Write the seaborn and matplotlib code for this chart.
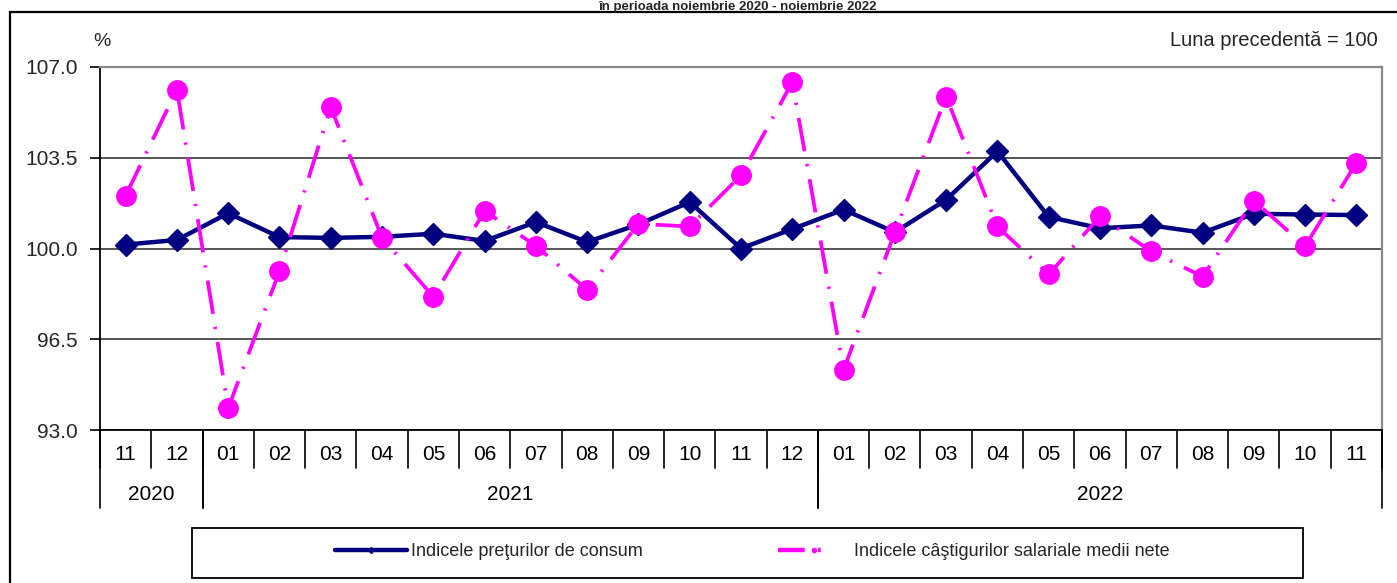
import numpy as np
import pandas as pd
import matplotlib
matplotlib.use("Agg")
import matplotlib.pyplot as plt
import matplotlib.transforms as mtransforms
from matplotlib.lines import Line2D
from matplotlib.patches import Rectangle
import seaborn as sns

# lunile afisate pe axa x
months = ["11", "12", "01", "02", "03", "04", "05", "06", "07", "08", "09", "10",
          "11", "12", "01", "02", "03", "04", "05", "06", "07", "08", "09", "10", "11"]
years = ["2020", "2021", "2022"]
year_counts = [2, 12, 11]

# Indicele preturilor de consum (luna precedenta = 100)
ipc = [100.15, 100.33, 101.36, 100.44, 100.41, 100.45, 100.57, 100.29, 101.02, 100.25,
       100.93, 101.79, 100.00, 100.75, 101.50, 100.63, 101.88, 103.75, 101.22, 100.78,
       100.89, 100.61, 101.34, 101.31, 101.29]

# Indicele castigurilor salariale medii nete
castig = [102.04, 106.13, 93.84, 99.13, 105.45, 100.42, 98.14, 101.45, 100.10, 98.41,
          100.95, 100.85, 102.82, 106.41, 95.32, 100.62, 105.86, 100.85, 99.00, 101.24,
          99.89, 98.92, 101.85, 100.09, 103.30]

ipc_label = "Indicele preţurilor de consum"
castig_label = "Indicele câştigurilor salariale medii nete"
title = "în perioada noiembrie 2020 - noiembrie 2022"

W, H = 1397, 583


def main():
    sns.set_theme(style="white")
    plt.rcParams["font.family"] = ["Liberation Sans", "DejaVu Sans"]

    df = pd.DataFrame({"pos": np.arange(len(months)), "ipc": ipc, "castig": castig})

    fig = plt.figure(figsize=(W / 100, H / 100), dpi=100)
    ax = fig.add_axes([100 / W, 1 - 430 / H, 1282 / W, 363 / H])

    sns.lineplot(data=df, x="pos", y="ipc", ax=ax, color="#000080", linewidth=3.2,
                 marker="D", markersize=11, markeredgecolor="#000080",
                 markeredgewidth=1, sort=False, zorder=3)
    sns.lineplot(data=df, x="pos", y="castig", ax=ax, color="#ff00ff", linewidth=2.7,
                 linestyle=(0, (9, 3.5, 0.6, 3.5)), marker="o", markersize=14,
                 markeredgecolor="#ff00ff", markeredgewidth=1, sort=False, zorder=4)

    ax.set_xlim(-0.5, len(months) - 0.5)
    ax.set_ylim(93, 107)
    ticks = [93.0, 96.5, 100.0, 103.5, 107.0]
    ax.set_yticks(ticks)
    ax.set_yticklabels([f"{v:.1f}" for v in ticks])
    ax.set_xticks([])
    ax.set_xlabel("")
    ax.set_ylabel("")
    ax.tick_params(axis="y", direction="out", length=7, width=1.2, color="black",
                   labelsize=15, pad=9, left=True)
    ax.yaxis.grid(True, color="#555555", linewidth=1.4)
    ax.set_axisbelow(True)

    for side in ["left", "bottom"]:
        ax.spines[side].set_color("black")
        ax.spines[side].set_linewidth(1.3)
    for side in ["top", "right"]:
        ax.spines[side].set_color("#8a8a8a")
        ax.spines[side].set_linewidth(1.6)

    # axa x pe doua niveluri: luni si ani
    trans = mtransforms.blended_transform_factory(ax.transData, ax.transAxes)
    ah = 363
    for i in range(len(months) + 1):
        ax.plot([i - 0.5, i - 0.5], [0, -38 / ah], color="black", lw=1.2,
                transform=trans, clip_on=False)
    for i, m in enumerate(months):
        ax.text(i, -25 / ah, m, transform=trans, ha="center", va="center",
                fontsize=15, color="black")
    start = 0
    for y, n in zip(years, year_counts):
        for b in (start - 0.5, start + n - 0.5):
            ax.plot([b, b], [0, -78 / ah], color="black", lw=1.2,
                    transform=trans, clip_on=False)
        ax.text(start + (n - 1) / 2, -64 / ah, y, transform=trans, ha="center",
                va="center", fontsize=15, color="black")
        start += n

    # texte deasupra graficului
    fig.text(102 / W, 1 - 41 / H, "%", ha="center", va="center", fontsize=14)
    fig.text(1378 / W, 1 - 40 / H, "Luna precedentă = 100", ha="right",
             va="center", fontsize=14.5)
    fig.text(738 / W, 1 - 10 / H, title, ha="center", va="baseline",
             fontsize=9.5, fontweight="bold")

    # chenarul exterior
    fig.patches.append(Rectangle((10 / W, -0.05), 1.0, 1.05 - 12.5 / H,
                                 transform=fig.transFigure, fill=False,
                                 edgecolor="black", linewidth=1.6))

    # legenda
    fig.patches.append(Rectangle((192 / W, 1 - 578 / H), (1303 - 192) / W, 50 / H,
                                 transform=fig.transFigure, fill=False,
                                 edgecolor="black", linewidth=1.3))
    handles = [
        Line2D([], [], color="#000080", lw=3.2, marker="D", markersize=3),
        Line2D([], [], color="#ff00ff", lw=3.2, linestyle=(0, (6, 3, 0.6, 8)),
               marker="o", markersize=3),
    ]
    fig.legend(handles, [ipc_label, castig_label], loc="center",
               bbox_to_anchor=(752 / W, 1 - 552 / H), ncol=2, frameon=False,
               fontsize=13, handlelength=4, handletextpad=0.2, columnspacing=7.5)

    fig.savefig("out.png", dpi=100)


if __name__ == "__main__":
    main()
